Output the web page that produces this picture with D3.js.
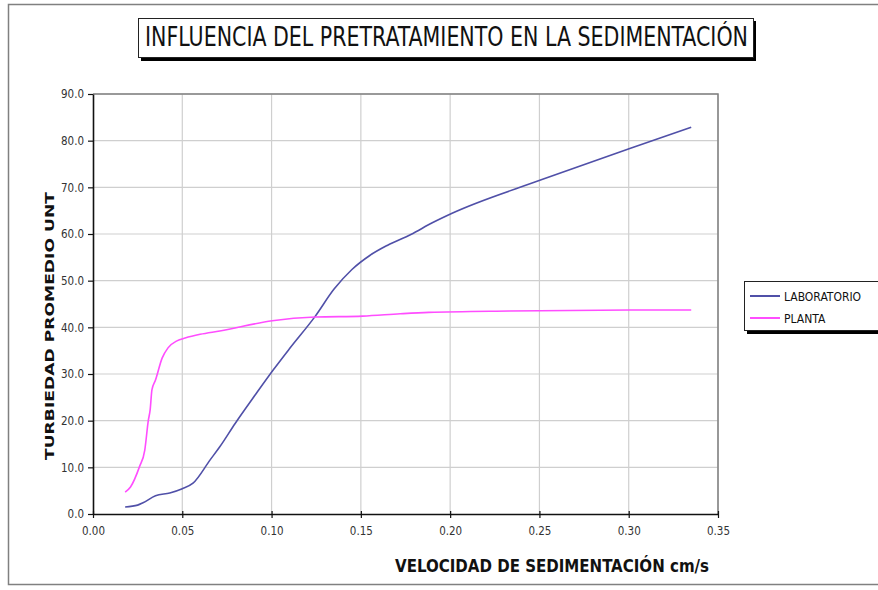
<!DOCTYPE html>
<html><head><meta charset="utf-8">
<script src="https://cdn.jsdelivr.net/npm/d3@7"></script>
<style>body{margin:0;background:#fff}svg{display:block}</style>
</head><body>
<script>
const titleText = "INFLUENCIA DEL PRETRATAMIENTO EN LA SEDIMENTACIÓN";
const xLabel = "VELOCIDAD DE SEDIMENTACIÓN cm/s";
const yLabel = "TURBIEDAD PROMEDIO UNT";
const seriesNames = ["LABORATORIO", "PLANTA"];
const xTicks = [0, 0.05, 0.10, 0.15, 0.20, 0.25, 0.30, 0.35];
const yTicks = [0, 10, 20, 30, 40, 50, 60, 70, 80, 90];

const labX = [0.018,0.025,0.028,0.035,0.043,0.050,0.056,0.0656,0.071,0.0796,0.091,0.101,0.110,0.1245,0.135,0.145,0.155,0.165,0.178,0.190,0.2014,0.251,0.301,0.335];
const labY = [1.5,1.9,2.4,3.9,4.5,5.4,6.6,11.6,14.4,19.4,25.6,30.9,35.4,42.4,48.2,52.4,55.4,57.6,59.9,62.4,64.5,71.6,78.4,82.9];

const plantaX = [0.018,0.021,0.026,0.029,0.031,0.032,0.033,0.035,0.0387,0.042,0.047,0.0516,0.060,0.071,0.1004,0.1245,0.151,0.172,0.188,0.233,0.301,0.335];
const plantaY = [4.7,5.8,10.1,13.7,20.1,22.3,26.6,28.7,33.4,35.6,37.1,37.7,38.5,39.2,41.4,42.2,42.4,42.9,43.2,43.5,43.7,43.7];

const colors = ["#5050a8", "#ff4dff"];

const W = 878, H = 590;
const svg = d3.select("body").append("svg").attr("width", W).attr("height", H);
const narrow = "'Liberation Sans Narrow','DejaVu Sans Condensed','Arial Narrow',sans-serif";
const tickFont = "'DejaVu Sans Condensed','Liberation Sans Narrow',sans-serif";

// outer chart border
svg.append("rect").attr("x", 8.5).attr("y", 4.5).attr("width", 880).attr("height", 580)
  .attr("fill", "#fff").attr("stroke", "#808080").attr("stroke-width", 1.5);

const L = 93, R = 718, T = 94, B = 514;
const x = d3.scaleLinear().domain([0, 0.35]).range([L, R]);
const y = d3.scaleLinear().domain([0, 90]).range([B, T]);

// grid
svg.append("g").selectAll("line").data(xTicks.slice(1)).join("line")
  .attr("x1", d => x(d)).attr("x2", d => x(d)).attr("y1", T).attr("y2", B)
  .attr("stroke", "#cfcfcf").attr("stroke-width", 1.2);
svg.append("g").selectAll("line").data(yTicks.slice(1)).join("line")
  .attr("x1", L).attr("x2", R).attr("y1", d => y(d)).attr("y2", d => y(d))
  .attr("stroke", "#cfcfcf").attr("stroke-width", 1.2);

// plot frame top/right
svg.append("path").attr("d", `M${L},${T}H${R}V${B}`).attr("fill", "none")
  .attr("stroke", "#808080").attr("stroke-width", 1.5);

// axes
const xAxis = svg.append("g").attr("transform", `translate(0,${B})`)
  .call(d3.axisBottom(x).tickValues(xTicks).tickFormat(d3.format(".2f")).tickSizeInner(4).tickSizeOuter(0).tickPadding(9));
const yAxis = svg.append("g").attr("transform", `translate(${L},0)`)
  .call(d3.axisLeft(y).tickValues(yTicks).tickFormat(d3.format(".1f")).tickSizeInner(5).tickSizeOuter(0).tickPadding(4));
[xAxis, yAxis].forEach(g => {
  g.select(".domain").attr("stroke", "#111").attr("stroke-width", 1.6);
  g.selectAll(".tick line").attr("stroke", "#111").attr("stroke-width", 1.2);
  g.selectAll(".tick text").attr("font-family", tickFont).attr("font-size", 11.5).attr("fill", "#333");
});
xAxis.selectAll(".tick line").attr("y1", -3);

// lines
const line = d3.line().x(d => x(d[0])).y(d => y(d[1])).curve(d3.curveMonotoneX);
const series = [d3.zip(labX, labY), d3.zip(plantaX, plantaY)];
series.forEach((s, i) => {
  svg.append("path").datum(s).attr("d", line).attr("fill", "none")
    .attr("stroke", colors[i]).attr("stroke-width", 1.6).attr("stroke-linejoin", "round");
});

// title box
svg.append("rect").attr("x", 141).attr("y", 21).attr("width", 615).attr("height", 40).attr("fill", "#000");
svg.append("rect").attr("x", 138.5).attr("y", 18.5).attr("width", 615).attr("height", 39)
  .attr("fill", "#fff").attr("stroke", "#222").attr("stroke-width", 1);
svg.append("text").attr("x", 145).attr("y", 46).attr("font-family", narrow).attr("font-size", 27)
  .attr("fill", "#111").attr("textLength", 603).attr("lengthAdjust", "spacingAndGlyphs").text(titleText);

// axis titles
svg.append("text").attr("transform", `translate(54,326) rotate(-90)`).attr("text-anchor", "middle")
  .attr("font-family", "'DejaVu Sans',Verdana,sans-serif").attr("font-weight", "bold").attr("font-size", 13)
  .attr("fill", "#111").attr("textLength", 268).attr("lengthAdjust", "spacingAndGlyphs").text(yLabel);
svg.append("text").attr("x", 395).attr("y", 572)
  .attr("font-family", narrow).attr("font-weight", "bold").attr("font-size", 17)
  .attr("fill", "#111").attr("textLength", 314).attr("lengthAdjust", "spacingAndGlyphs").text(xLabel);

// legend
svg.append("rect").attr("x", 747).attr("y", 284).attr("width", 140).attr("height", 50).attr("fill", "#000");
svg.append("rect").attr("x", 744.5).attr("y", 281.5).attr("width", 140).attr("height", 49)
  .attr("fill", "#fff").attr("stroke", "#222").attr("stroke-width", 1);
const leg = svg.append("g").selectAll("g").data(seriesNames).join("g")
  .attr("transform", (d, i) => `translate(750,${296 + i * 22})`);
leg.append("line").attr("x1", 0).attr("x2", 30).attr("stroke", (d, i) => colors[i]).attr("stroke-width", 2);
leg.append("text").attr("x", 34).attr("y", 4.5).attr("font-family", tickFont).attr("font-size", 12)
  .attr("fill", "#111").text(d => d);
</script>
</body></html>
